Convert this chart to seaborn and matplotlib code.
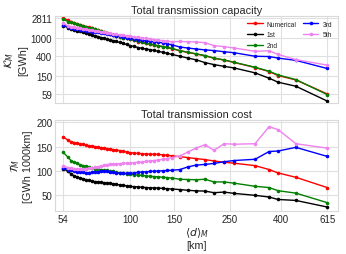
import numpy as np
import pandas as pd
import seaborn as sns
from matplotlib import pyplot as plt
from matplotlib.ticker import NullFormatter

# mean link length <d>_M [km]
dist = [54, 56.4, 58, 59.6, 61.3, 63, 64.8, 66.6, 68.4, 70.4, 72.3, 74.4, 76.4, 78.6, 80.8,
        83, 85.4, 87.8, 90.7, 93.6, 96.7, 100, 103.7, 107.6, 111.7, 115.9, 120.2, 124.7,
        129.3, 135.4, 140.4, 147.1, 158.3, 170.4, 183.5, 199.4, 216.6, 237.6, 260.6, 316.3,
        360, 391, 461, 615]

labels = ["Numerical", "1st", "2nd", "3rd", "5th"]
colors = ["red", "black", "green", "blue", "violet"]

# total transmission capacity [GWh]
cap_num = [2811, 2480, 2330, 2210, 2090, 2000, 1900, 1810, 1735, 1660, 1590, 1515, 1450, 1385,
           1325, 1265, 1205, 1150, 1090, 1040, 995, 960, 905, 848, 808, 776, 745, 712, 682, 650,
           628, 590, 530, 486, 450, 410, 362, 330, 292, 226, 184, 150, 120, 59]
cap_1st = [1900, 1720, 1640, 1560, 1480, 1420, 1360, 1290, 1240, 1190, 1140, 1090, 1040, 1000,
           960, 925, 890, 855, 810, 770, 730, 690, 660, 625, 600, 580, 560, 540, 515, 490, 466,
           440, 401, 365, 335, 290, 262, 240, 221, 172, 131, 107, 87, 41]
cap_2nd = [2620, 2350, 2250, 2150, 2040, 1960, 1880, 1790, 1720, 1650, 1580, 1510, 1440, 1380,
           1320, 1260, 1200, 1150, 1090, 1040, 1000, 966, 910, 850, 810, 780, 749, 715, 685, 655,
           633, 595, 534, 490, 455, 416, 365, 333, 295, 229, 187, 155, 122, 57]
cap_3rd = [1990, 1780, 1700, 1640, 1590, 1550, 1510, 1475, 1440, 1410, 1380, 1356, 1320, 1280,
           1250, 1220, 1190, 1150, 1110, 1070, 1040, 1017, 970, 929, 900, 875, 857, 835, 815, 794,
           760, 716, 640, 610, 580, 555, 535, 505, 480, 401, 395, 365, 325, 215]
cap_5th = [2130, 1880, 1800, 1740, 1690, 1650, 1610, 1580, 1550, 1520, 1480, 1440, 1400, 1370,
           1330, 1290, 1250, 1220, 1190, 1170, 1140, 1105, 1080, 1052, 1020, 990, 966, 940, 910,
           888, 865, 843, 850, 840, 830, 800, 688, 655, 610, 516, 530, 440, 338, 255]

# total transmission cost [GWh 1000km]
cost_num = [170, 163, 160, 158.5, 157, 155.5, 154.5, 153, 152, 151, 150, 149, 148, 147, 146,
            145, 144, 143, 142, 140.5, 139, 137.5, 137, 136, 135.5, 135, 134.5, 134.5, 134, 133,
            132.5, 131, 129.5, 127.5, 125.5, 123.5, 120.5, 118, 116, 111, 103, 96, 87, 66]
cost_1st = [105, 99, 94, 90, 88, 85.5, 84, 82, 80.5, 79, 78, 77.3, 76.5, 76, 75.3, 74.5, 73.5,
            72.5, 71.5, 70.5, 69.5, 68.3, 67.8, 67.3, 66.5, 66, 65.5, 65.2, 65, 64.3, 63.6, 63,
            61.8, 60.3, 59.2, 58.7, 55.4, 56.7, 54, 50, 46.5, 41.5, 39.5, 26]
cost_2nd = [138, 128, 121, 118, 115.5, 113, 111, 109.5, 108, 106.5, 105, 103.5, 102.5, 101.5,
            101, 100, 99, 97.5, 96, 95, 94, 93, 92.5, 91.5, 91, 90, 89, 88.5, 88, 87, 86.5, 85.5,
            83, 82.5, 82, 83, 77.5, 77.5, 75, 68.5, 66, 59.5, 54.5, 35]
cost_3rd = [107, 103, 101, 99.5, 98, 97.5, 97, 96.5, 96.5, 97, 97.5, 98, 99, 100, 99, 98, 97,
            96, 95.5, 95, 95, 95, 96, 97, 98, 98.5, 99, 99.5, 100, 100.5, 101, 101.5, 103, 108.5,
            112, 113.5, 115.5, 119, 121.5, 124, 140, 141, 148.5, 130]
cost_5th = [110.5, 107, 105.5, 105, 104.5, 104.5, 104.5, 104.7, 105.5, 106.5, 107.5, 108.5, 110,
            111.5, 113, 113.5, 114, 114.5, 115, 115.5, 116, 116.5, 117, 118, 118.5, 119.5, 120.5,
            121.5, 122.5, 124, 125.5, 127.5, 131, 139, 147, 154, 142.5, 156, 155, 156, 191, 185,
            156, 147]

xticks = [54, 100, 150, 250, 400, 615]
cap_ticks = [59, 150, 400, 1000, 2811]
cost_ticks = [50, 100, 150, 200]


def long_frame(series, value_name):
    parts = []
    for name, vals in zip(labels, series):
        parts.append(pd.DataFrame({"d": dist, value_name: vals, "method": name}))
    return pd.concat(parts, ignore_index=True)


cap = long_frame([cap_num, cap_1st, cap_2nd, cap_3rd, cap_5th], "K")
cost = long_frame([cost_num, cost_1st, cost_2nd, cost_3rd, cost_5th], "T")

sns.set_style("whitegrid")
plt.rcParams["font.family"] = ["Liberation Sans", "DejaVu Sans"]
plt.rcParams["axes.edgecolor"] = ".85"
plt.rcParams["grid.color"] = ".88"

fig = plt.figure(figsize=(3.46, 2.55), dpi=100)
ax1 = fig.add_axes([0.159, 0.592, 0.818, 0.341])
ax2 = fig.add_axes([0.159, 0.169, 0.818, 0.357], sharex=ax1)

palette = dict(zip(labels, colors))
line_kw = dict(marker="o", markersize=2.6, markeredgewidth=0, linewidth=1.0)

sns.lineplot(data=cap, x="d", y="K", hue="method", hue_order=labels, palette=palette,
             ax=ax1, legend=False, **line_kw)
sns.lineplot(data=cost, x="d", y="T", hue="method", hue_order=labels, palette=palette,
             ax=ax2, legend=False, **line_kw)

ax1.set_xscale("log")
ax1.set_yscale("log")
ax1.set_xlim(50, 680)
ax1.set_ylim(37, 3100)
ax1.set_yticks(cap_ticks)
ax1.set_yticklabels([str(t) for t in cap_ticks])
ax1.yaxis.set_minor_formatter(NullFormatter())
ax1.tick_params(axis="x", labelbottom=False)
ax1.set_title("Total transmission capacity", fontsize=7.8, pad=2)
ax1.set_ylabel("$\\mathcal{K}_M$\n[GWh]", fontsize=7.8, labelpad=2)
ax1.set_xlabel("")

ax2.set_ylim(18, 205)
ax2.set_yticks(cost_ticks)
ax2.set_xticks(xticks)
ax2.set_xticklabels([str(t) for t in xticks])
ax2.xaxis.set_minor_formatter(NullFormatter())
ax2.set_title("Total transmission cost", fontsize=7.8, pad=2)
ax2.set_ylabel("$\\mathcal{T}_M$\n[GWh 1000km]", fontsize=7.8, labelpad=2)
ax2.set_xlabel("$\\langle d\\rangle_M$\n[km]", fontsize=7.8, labelpad=1)

for ax in (ax1, ax2):
    ax.tick_params(which="major", labelsize=7, length=0, pad=2)
    ax.tick_params(which="minor", length=2, width=0.5, color=".8", direction="in")
    ax.grid(True, which="major", linewidth=0.8)
    ax.grid(False, which="minor")

handles = [plt.Line2D([], [], color=c, **line_kw) for c in colors]
ax1.legend(handles, labels, ncol=2, loc="upper right", bbox_to_anchor=(0.995, 1.0),
           fontsize=4.8, frameon=False, handlelength=2.3, handletextpad=0.6,
           columnspacing=1.0, borderaxespad=0.3, labelspacing=0.55)

fig.align_ylabels([ax1, ax2])
fig.savefig("out.png", dpi=100)
